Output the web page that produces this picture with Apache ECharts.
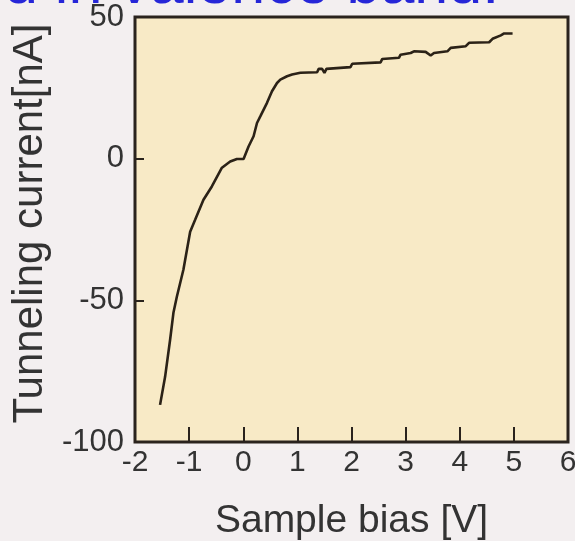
<!DOCTYPE html>
<html>
<head>
<meta charset="utf-8">
<script src="https://cdn.jsdelivr.net/npm/echarts@6/dist/echarts.min.js"></script>
<style>
html,body{margin:0;padding:0;background:#f3eff0;}
#chart{width:575px;height:541px;}
</style>
</head>
<body>
<div id="chart"></div>
<script>
var titleText = 'd in valence band.';
var xAxisName = 'Sample bias [V]';
var yAxisName = 'Tunneling current[nA]';
var xTicks = [-2, -1, 0, 1, 2, 3, 4, 5, 6];
var yTicks = [-100, -50, 0, 50];
var biasV = [-1.537, -1.444, -1.352, -1.29, -1.228, -1.106, -0.981, -0.889, -0.735, -0.58, -0.394, -0.241, -0.117, 0.006, 0.037, 0.098, 0.191, 0.254, 0.315, 0.439, 0.531, 0.624, 0.685, 0.809, 0.902, 1.056, 1.365, 1.394, 1.457, 1.5, 1.537, 1.981, 2.013, 2.537, 2.569, 2.876, 2.907, 3.093, 3.154, 3.37, 3.463, 3.524, 3.772, 3.833, 4.111, 4.172, 4.543, 4.606, 4.759, 4.82, 4.976];
var currentNA = [-86.9, -77.0, -64.0, -54.4, -48.8, -39.2, -25.8, -21.6, -14.5, -9.8, -3.2, -1.0, -0.1, -0.1, 0.3, 4.3, 7.9, 12.6, 14.9, 19.7, 23.8, 26.7, 27.9, 29.1, 29.7, 30.3, 30.5, 31.7, 31.7, 30.3, 31.7, 32.3, 33.5, 34.0, 35.2, 35.6, 36.7, 37.3, 37.9, 37.7, 36.4, 37.3, 37.9, 39.1, 39.7, 40.9, 41.1, 42.3, 43.5, 44.2, 44.2];

var pts = biasV.map(function (v, i) { return [v, currentNA[i]]; });
var chart = echarts.init(document.getElementById('chart'));
var dark = '#2a231d';
var fontFam = '"Liberation Sans", Arial, sans-serif';
chart.setOption({
  backgroundColor: '#f3eff0',
  animation: false,
  graphic: [{
    type: 'text',
    x: 4,
    y: -44,
    z: 10,
    style: {
      text: titleText,
      font: '61px "Liberation Sans", Arial, sans-serif',
      fill: '#2626d8',
      verticalAlign: 'top',
      shadowColor: 'rgba(90,90,90,0.7)',
      shadowOffsetX: 2,
      shadowOffsetY: 2,
      shadowBlur: 1
    }
  }],
  grid: {
    left: 135, right: 7, top: 17, bottom: 99,
    outerBoundsMode: 'none',
    containLabel: false,
    show: true,
    backgroundColor: '#f8eac6',
    borderColor: dark,
    borderWidth: 3
  },
  xAxis: {
    type: 'value',
    min: xTicks[0], max: xTicks[xTicks.length - 1], interval: 1,
    axisLine: { show: false, onZero: false },
    splitLine: { show: false },
    axisTick: { inside: true, length: 15, lineStyle: { color: dark, width: 2 } },
    axisLabel: { fontSize: 30, color: '#333', margin: 6, fontFamily: fontFam },
    name: xAxisName,
    nameLocation: 'middle',
    nameGap: 60,
    nameTextStyle: { fontSize: 39, color: '#333', fontFamily: fontFam }
  },
  yAxis: {
    type: 'value',
    min: yTicks[0], max: yTicks[yTicks.length - 1], interval: 50,
    axisLine: { show: false, onZero: false },
    splitLine: { show: false },
    axisTick: { inside: true, length: 9, lineStyle: { color: dark, width: 2 } },
    axisLabel: { fontSize: 31, color: '#333', margin: 11, fontFamily: fontFam },
    name: yAxisName,
    nameLocation: 'middle',
    nameGap: 74,
    nameTextStyle: { fontSize: 42, color: '#333', fontFamily: fontFam, padding: [0, 0, 0, 12] }
  },
  series: [{
    type: 'line',
    data: pts,
    showSymbol: false,
    smooth: false,
    z: 3,
    lineStyle: { color: '#2b2217', width: 2.6 }
  }]
});
</script>
</body>
</html>
